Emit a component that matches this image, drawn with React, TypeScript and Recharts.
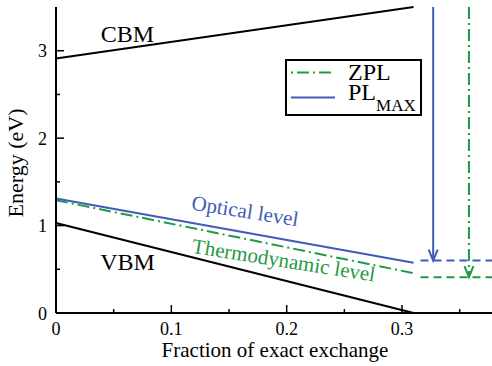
import React from "react";
import {
  ComposedChart,
  Line,
  XAxis,
  YAxis,
  ReferenceDot,
  Legend,
} from "recharts";

// levels vs. fraction of exact exchange (eV)
const edgeX = [0, 0.31];
const cbmY = [2.91, 3.5];
const vbmY = [1.03, 0.0];
const opticalY = [1.31, 0.575];
const thermoY = [1.29, 0.455];

const flatX = [0.316, 0.378];
const plMaxFlatY = [0.6, 0.6];
const zplFlatY = [0.41, 0.41];

const plArrowX = [0.327, 0.327];
const plArrowY = [3.5, 0.6];
const zplArrowX = [0.358, 0.358];
const zplArrowY = [3.5, 0.41];

const xTicks = [0, 0.05, 0.1, 0.15, 0.2, 0.25, 0.3, 0.35];
const xMajor = [0, 0.1, 0.2, 0.3];
const yTicks = [0, 0.5, 1, 1.5, 2, 2.5, 3];
const yMajor = [0, 1, 2, 3];

const notes = [
  { x: 0.062, y: 3.104, text: "CBM", color: "#000", angle: 0, size: 24 },
  { x: 0.062, y: 0.489, text: "VBM", color: "#000", angle: 0, size: 24 },
  { x: 0.163, y: 1.087, text: "Optical level", color: "#3f5cb8", angle: 9, size: 21 },
  { x: 0.1965, y: 0.523, text: "Thermodynamic level", color: "#1f9a44", angle: 9, size: 21 },
];

const FONT = "Liberation Serif, DejaVu Serif, serif";
const txt = { fontFamily: FONT };
const BLUE = "#3f5cb8";
const GREEN = "#1f9a44";
const DASHDOT = "12 4 2 4";

const zip = (xs: number[], ys: number[]) => xs.map((x, i) => ({ x, y: ys[i] }));

const BottomTick = (props: any) => {
  const { x, y, payload } = props;
  const major = xMajor.includes(payload.value);
  return (
    <g>
      <line x1={x} x2={x} y1={y} y2={y - (major ? 8 : 4)} stroke="#000" strokeWidth={1.5} />
      {major && (
        <text x={x} y={y + 22} textAnchor="middle" fontSize={18} style={txt} fill="#000">
          {payload.value}
        </text>
      )}
    </g>
  );
};

const TopTick = (props: any) => {
  const { x, y, payload } = props;
  const major = xMajor.includes(payload.value);
  return <line x1={x} x2={x} y1={y} y2={y + (major ? 8 : 4)} stroke="#000" strokeWidth={1.5} />;
};

const LeftTick = (props: any) => {
  const { x, y, payload } = props;
  const major = yMajor.includes(payload.value);
  return (
    <g>
      <line x1={x} x2={x + (major ? 8 : 4)} y1={y} y2={y} stroke="#000" strokeWidth={1.5} />
      {major && (
        <text x={x - 9} y={y + 6.5} textAnchor="end" fontSize={18} style={txt} fill="#000">
          {payload.value}
        </text>
      )}
    </g>
  );
};

const arrowHead = (color: string) => (props: any) => {
  const { cx, cy, index } = props;
  if (index !== 1) return <g key={`a-${index}`} />;
  return (
    <path
      key={`a-${index}`}
      d={`M${cx - 4.5},${cy - 11} L${cx},${cy} L${cx + 4.5},${cy - 11}`}
      fill="none"
      stroke={color}
      strokeWidth={2}
    />
  );
};

const LegendBox = () => (
  <svg width={137} height={57} style={{ display: "block" }}>
    <rect x={1} y={1} width={135} height={55} fill="#fff" stroke="#000" strokeWidth={2} />
    <line x1={6} x2={50} y1={13.5} y2={13.5} stroke={GREEN} strokeWidth={2} strokeDasharray="2 4 12 4" />
    <text x={63} y={20.5} fontSize={24} style={txt} fill="#000">
      ZPL
    </text>
    <line x1={6} x2={50} y1={38.5} y2={38.5} stroke={BLUE} strokeWidth={2} />
    <text x={63} y={41} fontSize={24} style={txt} fill="#000">
      PL
      <tspan fontSize={17} dy={10.5}>
        MAX
      </tspan>
    </text>
  </svg>
);

const NoteShape = (n: (typeof notes)[number]) => (props: any) => {
  const { cx, cy } = props;
  return (
    <text
      x={cx}
      y={cy}
      textAnchor="middle"
      fontSize={n.size}
      style={txt}
      fill={n.color}
      transform={n.angle ? `rotate(${n.angle} ${cx} ${cy})` : undefined}
    >
      {n.text}
    </text>
  );
};

export default function App() {
  return (
    <div style={{ position: "absolute", left: 0, top: 0, width: 492, height: 366, overflow: "hidden", background: "#fff", fontFamily: FONT }}>
      <ComposedChart width={492} height={366} margin={{ top: 7, right: 0, bottom: 0, left: 0 }}>
        <XAxis
          dataKey="x"
          type="number"
          domain={[0, 0.378]}
          ticks={xTicks}
          interval={0}
          height={53}
          tickSize={0}
          tickMargin={0}
          tickLine={false}
          tick={BottomTick}
          axisLine={{ stroke: "#000", strokeWidth: 2 }}
          label={{
            content: (p: any) => {
              const vb = p.viewBox;
              return (
                <text x={vb.x + vb.width / 2 + 1} y={vb.y + 44} textAnchor="middle" fontSize={21} style={txt} fill="#000">
                  Fraction of exact exchange
                </text>
              );
            },
          }}
        />
        <XAxis
          xAxisId="top"
          orientation="top"
          dataKey="x"
          type="number"
          domain={[0, 0.378]}
          ticks={xTicks}
          interval={0}
          height={0}
          tickSize={0}
          tickMargin={0}
          tickLine={false}
          tick={TopTick}
          axisLine={{ stroke: "#000", strokeWidth: 2 }}
        />
        <YAxis
          type="number"
          domain={[0, 3.5]}
          ticks={yTicks}
          interval={0}
          width={56}
          tickSize={0}
          tickMargin={0}
          tickLine={false}
          tick={LeftTick}
          axisLine={{ stroke: "#000", strokeWidth: 2 }}
          label={{
            content: (p: any) => {
              const vb = p.viewBox;
              const cy = vb.y + vb.height / 2 + 3;
              return (
                <text x={23} y={cy} transform={`rotate(-90 23 ${cy})`} textAnchor="middle" fontSize={22} style={txt} fill="#000">
                  Energy (eV)
                </text>
              );
            },
          }}
        />
        <Legend
          layout="vertical"
          align="center"
          verticalAlign="middle"
          content={LegendBox}
          wrapperStyle={{ left: 285, top: 59, width: 137, height: 57 }}
        />

        <Line data={zip(edgeX, cbmY)} dataKey="y" stroke="#000" strokeWidth={2} dot={false} legendType="none" isAnimationActive={false} />
        <Line data={zip(edgeX, vbmY)} dataKey="y" stroke="#000" strokeWidth={2} dot={false} legendType="none" isAnimationActive={false} />
        <Line data={zip(edgeX, opticalY)} dataKey="y" stroke={BLUE} strokeWidth={2} dot={false} legendType="none" isAnimationActive={false} />
        <Line data={zip(edgeX, thermoY)} dataKey="y" stroke={GREEN} strokeWidth={2} strokeDasharray={DASHDOT} dot={false} legendType="none" isAnimationActive={false} />
        <Line data={zip(flatX, plMaxFlatY)} dataKey="y" stroke={BLUE} strokeWidth={2} strokeDasharray="8 5" dot={false} legendType="none" isAnimationActive={false} />
        <Line data={zip(flatX, zplFlatY)} dataKey="y" stroke={GREEN} strokeWidth={2} strokeDasharray="8 5" dot={false} legendType="none" isAnimationActive={false} />
        <Line data={zip(plArrowX, plArrowY)} dataKey="y" name="PL_MAX" stroke={BLUE} strokeWidth={2} dot={arrowHead(BLUE)} activeDot={false} isAnimationActive={false} />
        <Line data={zip(zplArrowX, zplArrowY)} dataKey="y" name="ZPL" stroke={GREEN} strokeWidth={2} strokeDasharray={DASHDOT} dot={arrowHead(GREEN)} activeDot={false} isAnimationActive={false} />

        {notes.map((n) => (
          <ReferenceDot key={n.text} x={n.x} y={n.y} r={0} shape={NoteShape(n)} />
        ))}
      </ComposedChart>
    </div>
  );
}
